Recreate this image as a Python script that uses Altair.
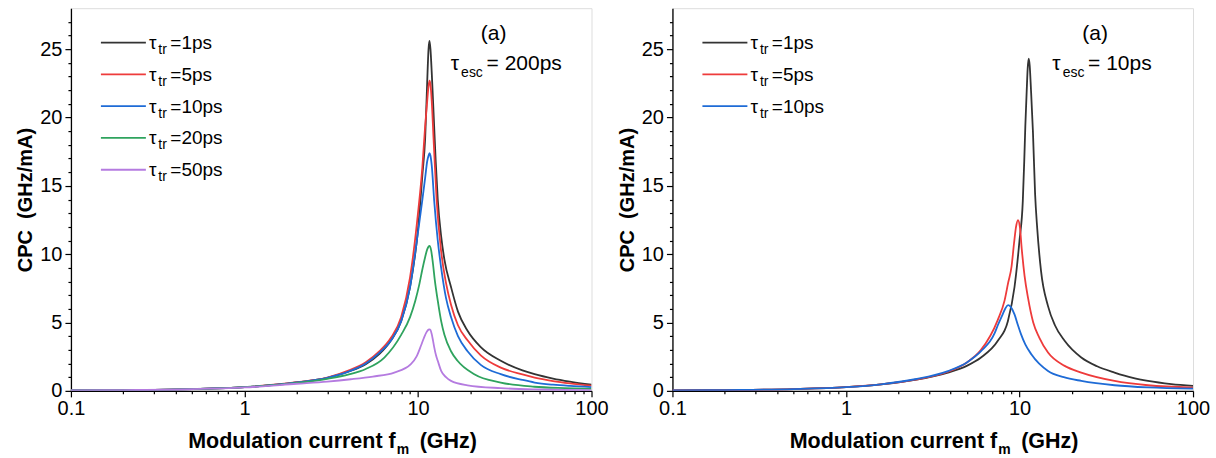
import altair as alt
import pandas as pd

FONT = "Liberation Sans"
W, H = 521, 383

# ---------------- values ----------------
# Left panel: tau_esc = 200 ps
L_LABELS = ["1ps", "5ps", "10ps", "20ps", "50ps"]
L_COLORS = ["#333333", "#ee3b3b", "#1e6bd6", "#2fa35e", "#b57be0"]

L1_F = [0.1, 0.2, 0.5, 1, 2, 3, 4, 5, 6, 7, 8, 9, 10, 10.6, 11.0, 11.3, 11.5, 11.65, 11.8, 12.0, 12.3, 12.65, 13.0, 13.6, 14.2, 15.5, 17, 19.3, 23, 30, 40, 47, 60, 75, 100]
L1_V = [0.03, 0.06, 0.13, 0.27, 0.62, 0.95, 1.42, 1.95, 2.7, 3.7, 5.1, 7.6, 11.8, 15.8, 18.5, 22.6, 25.0, 25.6, 25.0, 23.3, 20.3, 16.8, 14.0, 11.3, 9.6, 7.6, 5.8, 4.4, 3.2, 2.2, 1.5, 1.22, 0.9, 0.68, 0.45]

L2_F = [0.1, 0.2, 0.5, 1, 2, 3, 4, 5, 6, 7, 8, 9, 10, 10.6, 11.0, 11.3, 11.5, 11.65, 11.8, 12.0, 12.3, 12.8, 13.6, 14.5, 15.5, 17, 19.3, 23, 30, 40, 47, 60, 75, 100]
L2_V = [0.03, 0.06, 0.13, 0.27, 0.63, 0.97, 1.5, 2.1, 2.9, 3.9, 5.4, 8.3, 13.0, 16.4, 19.4, 21.2, 22.3, 22.7, 22.4, 21.2, 18.4, 14.0, 10.2, 7.9, 6.3, 4.8, 3.7, 2.6, 1.7, 1.2, 0.97, 0.72, 0.55, 0.38]

L3_F = [0.1, 0.2, 0.5, 1, 2, 3, 4, 5, 6, 7, 8, 9, 10, 10.6, 11.0, 11.3, 11.5, 11.65, 11.8, 12.0, 12.4, 13.0, 13.6, 14.5, 15.5, 17, 19.3, 23, 30, 40, 47, 60, 75, 100]
L3_V = [0.03, 0.06, 0.13, 0.27, 0.62, 0.95, 1.42, 2.0, 2.8, 3.7, 5.1, 7.6, 11.6, 14.0, 15.6, 16.8, 17.2, 17.4, 17.2, 16.5, 13.9, 11.0, 9.0, 6.8, 5.4, 4.0, 2.9, 1.9, 1.22, 0.8, 0.61, 0.45, 0.36, 0.28]

L4_F = [0.1, 0.2, 0.5, 1, 2, 3, 4, 5, 6.4, 8, 9, 9.65, 10.2, 10.6, 11.0, 11.3, 11.65, 11.9, 12.2, 12.5, 13.0, 13.6, 14.2, 15.5, 16.9, 21.1, 30, 46.8, 70, 100]
L4_V = [0.03, 0.06, 0.13, 0.27, 0.58, 0.88, 1.2, 1.6, 2.44, 4.1, 5.4, 6.6, 7.85, 8.9, 9.8, 10.35, 10.6, 10.3, 9.3, 8.1, 6.6, 5.1, 4.1, 2.9, 2.2, 1.22, 0.61, 0.3, 0.2, 0.15]

L5_F = [0.1, 0.2, 0.5, 1, 2, 3, 4.1, 5.5, 7.3, 9.1, 9.8, 10.4, 10.8, 11.2, 11.5, 11.65, 11.8, 12.0, 12.2, 12.4, 12.7, 13.0, 13.6, 14.5, 15.5, 19.3, 30, 50, 100]
L5_V = [0.03, 0.055, 0.12, 0.25, 0.52, 0.68, 0.85, 1.05, 1.34, 1.95, 2.5, 3.3, 3.85, 4.3, 4.48, 4.5, 4.45, 4.15, 3.7, 3.2, 2.6, 2.2, 1.46, 1.0, 0.73, 0.41, 0.2, 0.1, 0.05]

# Right panel: tau_esc = 10 ps
R_LABELS = ["1ps", "5ps", "10ps"]
R_COLORS = ["#333333", "#ee3b3b", "#1e6bd6"]

R1_F = [0.1, 0.2, 0.5, 1, 1.59, 2.5, 3.87, 5, 6, 7.5, 8.57, 9.36, 10.0, 10.45, 10.65, 10.8, 11.0, 11.15, 11.3, 11.45, 11.65, 11.95, 12.3, 12.65, 13.3, 14.6, 16, 18.2, 22.7, 28, 35.3, 45, 55, 75, 100]
R1_V = [0.03, 0.06, 0.13, 0.27, 0.47, 0.8, 1.34, 1.85, 2.44, 3.66, 5.1, 7.6, 11.0, 13.9, 16.8, 19.3, 21.9, 23.6, 24.3, 23.8, 22.0, 19.0, 14.4, 11.9, 8.8, 6.2, 4.8, 3.66, 2.44, 1.8, 1.34, 0.95, 0.73, 0.5, 0.37]

R2_F = [0.1, 0.2, 0.5, 1, 1.59, 2.5, 3.87, 5, 6, 7.5, 8.2, 8.6, 9.0, 9.3, 9.55, 9.8, 10.05, 10.3, 10.7, 11.2, 12.0, 13.0, 14.6, 18.2, 22.7, 35.3, 55, 100]
R2_V = [0.03, 0.06, 0.13, 0.27, 0.47, 0.82, 1.4, 2.1, 3.0, 5.2, 6.6, 7.9, 9.1, 10.8, 12.0, 12.5, 12.0, 10.4, 8.4, 6.8, 5.0, 3.9, 2.8, 1.83, 1.34, 0.73, 0.41, 0.24]

R3_F = [0.1, 0.2, 0.5, 1, 1.59, 2.5, 3.87, 5, 6, 7.18, 7.5, 8.0, 8.3, 8.6, 8.9, 9.36, 9.8, 10.2, 10.8, 11.7, 14.6, 18, 22.7, 35.3, 55, 100]
R3_V = [0.03, 0.06, 0.13, 0.27, 0.48, 0.85, 1.45, 2.1, 2.9, 4.2, 4.8, 5.6, 6.05, 6.28, 6.15, 5.6, 4.8, 4.15, 3.4, 2.68, 1.46, 1.0, 0.73, 0.41, 0.25, 0.17]

X_TICKS = [0.1, 0.2, 0.3, 0.4, 0.5, 0.6, 0.7, 0.8, 0.9,
           1, 2, 3, 4, 5, 6, 7, 8, 9,
           10, 20, 30, 40, 50, 60, 70, 80, 90, 100]
Y_TICKS = list(range(0, 28))
Y_DOMAIN = [0, 28]
X_DOMAIN = [0.1, 100]

# ---------------- chart ----------------
x_major_test = "indexof([0.1, 1, 10, 100], datum.value) >= 0"
y_major_test = "datum.value % 5 === 0"

X_AXIS = alt.Axis(
    values=X_TICKS, title=None, grid=False,
    labelExpr=x_major_test + " ? format(datum.value, '~g') : ''",
    tickSize={"condition": {"test": x_major_test, "value": 6}, "value": 3},
    labelFont=FONT, labelFontSize=20, labelColor="black", labelPadding=2,
    labelFlush=False, labelOverlap=False,
    domainColor="black", domainWidth=1.3, tickColor="black", tickWidth=1.2,
)
Y_AXIS = alt.Axis(
    values=Y_TICKS, grid=False,
    title="CPC\u00a0\u00a0(GHz/mA)", titleFont=FONT, titleFontSize=20,
    titleFontWeight="bold", titleColor="black",
    titleX=-35, titleY=H / 2, titleAngle=270, titleBaseline="bottom", titleAlign="center",
    labelExpr=y_major_test + " ? datum.label : ''",
    tickSize={"condition": {"test": y_major_test, "value": 6}, "value": 3},
    labelFont=FONT, labelFontSize=20, labelColor="black", labelPadding=3,
    labelOverlap=False, labelFlush=False,
    domainColor="black", domainWidth=1.3, tickColor="black", tickWidth=1.2,
)

ONE = pd.DataFrame({"k": [0]})


def line_layer(fs, vs, color):
    df = pd.DataFrame({"f": fs, "v": vs})
    return alt.Chart(df).mark_line(
        color=color, strokeWidth=1.8, interpolate="monotone", clip=True
    ).encode(
        x=alt.X("f:Q", scale=alt.Scale(type="log", domain=X_DOMAIN), axis=X_AXIS),
        y=alt.Y("v:Q", scale=alt.Scale(domain=Y_DOMAIN), axis=Y_AXIS),
    )


def text_layer(txt, x, y, size, weight="normal", align="left"):
    return alt.Chart(ONE).mark_text(
        text=txt, font=FONT, fontSize=size, fontWeight=weight, color="black",
        align=align, baseline="alphabetic",
    ).encode(x=alt.value(x), y=alt.value(y))


def legend_layers(labels, colors):
    out = []
    for i, (lab, col) in enumerate(zip(labels, colors)):
        yb = 41 + 31.8 * i
        out.append(alt.Chart(ONE).mark_rule(color=col, strokeWidth=1.8).encode(
            x=alt.value(30), x2=alt.value(75), y=alt.value(yb - 6.5)))
        out.append(text_layer("\u03c4", 78, yb, 19))
        out.append(text_layer("tr", 87.5, yb + 5, 14))
        out.append(text_layer("=" + lab, 99.5, yb, 19))
    return out


def annot_layers(esc_value):
    return [
        text_layer("(a)", 423, 32, 21, align="center"),
        text_layer("\u03c4", 380, 62, 21),
        text_layer("esc", 390.5, 68.5, 14),
        text_layer("= " + esc_value, 416, 62, 21),
    ]


def xtitle_layers():
    return [
        text_layer("Modulation current f", 325, 440, 21.5, weight="bold", align="right"),
        text_layer("m", 326, 446, 14, weight="bold"),
        text_layer("(GHz)", 349, 440, 21.5, weight="bold"),
    ]


left_lines = [line_layer(f, v, c) for f, v, c in zip(
    [L1_F, L2_F, L3_F, L4_F, L5_F], [L1_V, L2_V, L3_V, L4_V, L5_V], L_COLORS)]
right_lines = [line_layer(f, v, c) for f, v, c in zip(
    [R1_F, R2_F, R3_F], [R1_V, R2_V, R3_V], R_COLORS)]

left = alt.layer(
    *left_lines, *legend_layers(L_LABELS, L_COLORS), *annot_layers("200ps"), *xtitle_layers()
).properties(width=W, height=H)
right = alt.layer(
    *right_lines, *legend_layers(R_LABELS, R_COLORS), *annot_layers("10ps"), *xtitle_layers()
).properties(width=W, height=H)

chart = alt.hconcat(left, right, spacing=81, bounds="flush").properties(
    padding={"left": 15, "top": 7, "right": 5, "bottom": 2}
).configure_view(stroke="black", strokeWidth=1.3).configure(background="white")

chart.save("out.html", embed_options={"renderer": "svg", "actions": False})
